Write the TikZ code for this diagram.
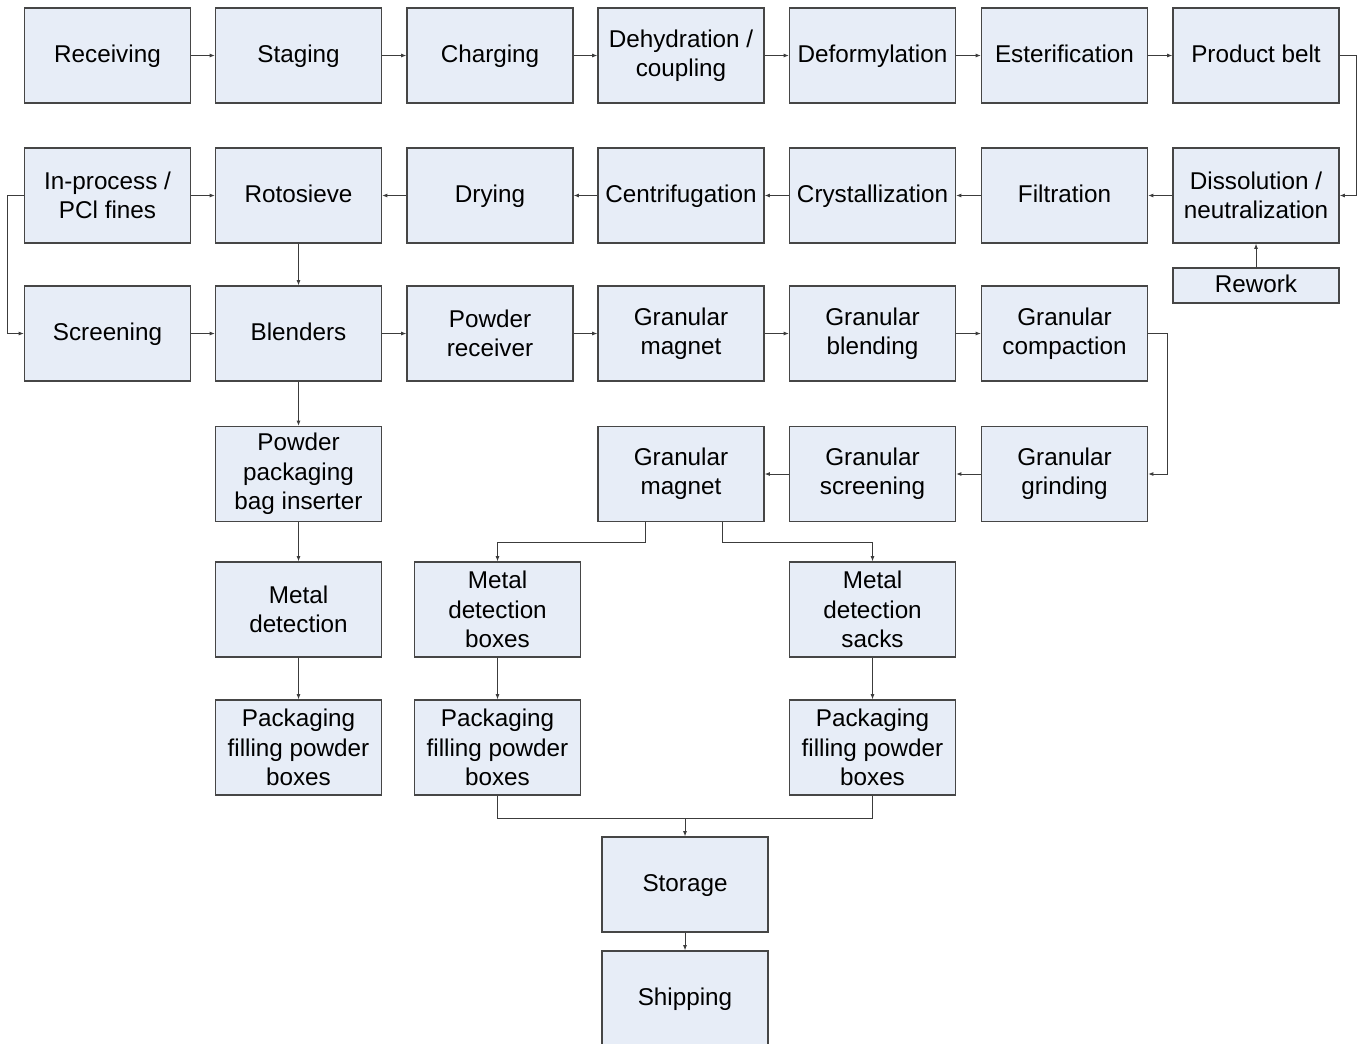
\documentclass[tikz,border=0pt]{standalone}
\usepackage{fontspec}
\setmainfont{Liberation Sans}
\usetikzlibrary{arrows.meta,calc}

\definecolor{boxfill}{RGB}{231,237,247}
\definecolor{boxline}{RGB}{70,70,70}
\definecolor{flowline}{RGB}{60,60,60}

\begin{document}
\begin{tikzpicture}[
    x=0.75pt, y=-0.75pt,
    stage/.style={rectangle, draw=boxline, fill=boxfill, line width=0.85pt, minimum width=124.5pt, minimum height=71.25pt, inner sep=0pt, align=center, font=\fontsize{18.2}{22}\selectfont},
    onestage/.style={stage, text height=11pt, text depth=0pt},
    smallstage/.style={onestage, minimum height=26.25pt},
    flow/.style={draw=flowline, line width=0.7pt, -{Latex[length=4pt,width=3pt]}},
    plain/.style={draw=flowline, line width=0.7pt}
]
    \useasboundingbox (0,0) rectangle (1360,1043);

    % Row 1
    \node[onestage] (receiving) at (107.5,55.5) {Receiving};
    \node[onestage] (staging) at (298.5,55.5) {Staging};
    \node[onestage] (charging) at (490,55.5) {Charging};
    \node[stage] (dehydration) at (681,55.5) {Dehydration /\\coupling};
    \node[onestage] (deformylation) at (872.5,55.5) {Deformylation};
    \node[onestage] (esterification) at (1064.5,55.5) {Esterification};
    \node[onestage] (productbelt) at (1256,55.5) {Product belt};

    % Row 2
    \node[stage] (inprocess) at (107.5,195.5) {In-process /\\PCl fines};
    \node[onestage] (rotosieve) at (298.5,195.5) {Rotosieve};
    \node[onestage] (drying) at (490,195.5) {Drying};
    \node[onestage] (centrifugation) at (681,195.5) {Centrifugation};
    \node[onestage] (crystallization) at (872.5,195.5) {Crystallization};
    \node[onestage] (filtration) at (1064.5,195.5) {Filtration};
    \node[stage] (dissolution) at (1256,195.5) {Dissolution /\\neutralization};
    \node[smallstage] (rework) at (1256,285.5) {Rework};

    % Row 3
    \node[onestage] (screening) at (107.5,333.5) {Screening};
    \node[onestage] (blenders) at (298.5,333.5) {Blenders};
    \node[stage] (powderreceiver) at (490,333.5) {Powder\\receiver};
    \node[stage] (granmagnet) at (681,333.5) {Granular\\magnet};
    \node[stage] (granblending) at (872.5,333.5) {Granular\\blending};
    \node[stage] (grancompaction) at (1064.5,333.5) {Granular\\compaction};

    % Row 4
    \node[stage] (baginserter) at (298.5,474) {Powder\\packaging\\bag inserter};
    \node[stage] (granmagnettwo) at (681,474) {Granular\\magnet};
    \node[stage] (granscreening) at (872.5,474) {Granular\\screening};
    \node[stage] (grangrinding) at (1064.5,474) {Granular\\grinding};

    % Rows 5 and 6
    \node[stage] (metaldetection) at (298.5,609.5) {Metal\\detection};
    \node[stage] (mdboxes) at (497.5,609.5) {Metal\\detection\\boxes};
    \node[stage] (mdsacks) at (872.5,609.5) {Metal\\detection\\sacks};
    \node[stage] (packpowder) at (298.5,747.5) {Packaging\\filling powder\\boxes};
    \node[stage] (packboxes) at (497.5,747.5) {Packaging\\filling powder\\boxes};
    \node[stage] (packsacks) at (872.5,747.5) {Packaging\\filling powder\\boxes};

    % Storage and shipping
    \node[onestage] (storage) at (685,884.5) {Storage};
    \node[onestage] (shipping) at (685,998.5) {Shipping};

    % Row 1 flow
    \draw[flow] (receiving) -- (staging);
    \draw[flow] (staging) -- (charging);
    \draw[flow] (charging) -- (dehydration);
    \draw[flow] (dehydration) -- (deformylation);
    \draw[flow] (deformylation) -- (esterification);
    \draw[flow] (esterification) -- (productbelt);
    \draw[flow] (productbelt.east) -- ++(17,0) |- (dissolution.east);

    % Row 2 flow
    \draw[flow] (dissolution) -- (filtration);
    \draw[flow] (filtration) -- (crystallization);
    \draw[flow] (crystallization) -- (centrifugation);
    \draw[flow] (centrifugation) -- (drying);
    \draw[flow] (drying) -- (rotosieve);
    \draw[flow] (inprocess) -- (rotosieve);
    \draw[flow] (rework) -- (dissolution);
    \draw[flow] (inprocess.west) -- ++(-16,0) |- (screening.west);
    \draw[flow] (rotosieve) -- (blenders);

    % Row 3 flow
    \draw[flow] (screening) -- (blenders);
    \draw[flow] (blenders) -- (powderreceiver);
    \draw[flow] (powderreceiver) -- (granmagnet);
    \draw[flow] (granmagnet) -- (granblending);
    \draw[flow] (granblending) -- (grancompaction);
    \draw[flow] (grancompaction.east) -- ++(19,0) |- (grangrinding.east);

    % Granular line
    \draw[flow] (grangrinding) -- (granscreening);
    \draw[flow] (granscreening) -- (granmagnettwo);
    \draw[flow] ($(granmagnettwo.south)+(-36,0)$) -- ++(0,20) -| (mdboxes.north);
    \draw[flow] ($(granmagnettwo.south)+(41,0)$) -- ++(0,20) -| (mdsacks.north);
    \draw[flow] (mdboxes) -- (packboxes);
    \draw[flow] (mdsacks) -- (packsacks);

    % Powder line
    \draw[flow] (blenders) -- (baginserter);
    \draw[flow] (baginserter) -- (metaldetection);
    \draw[flow] (metaldetection) -- (packpowder);

    % To storage
    \coordinate (merge) at (685,818);
    \draw[plain] (packboxes.south) |- (merge) -| (packsacks.south);
    \draw[flow] (merge) -- (storage.north);
    \draw[flow] (storage) -- (shipping);
\end{tikzpicture}
\end{document}
